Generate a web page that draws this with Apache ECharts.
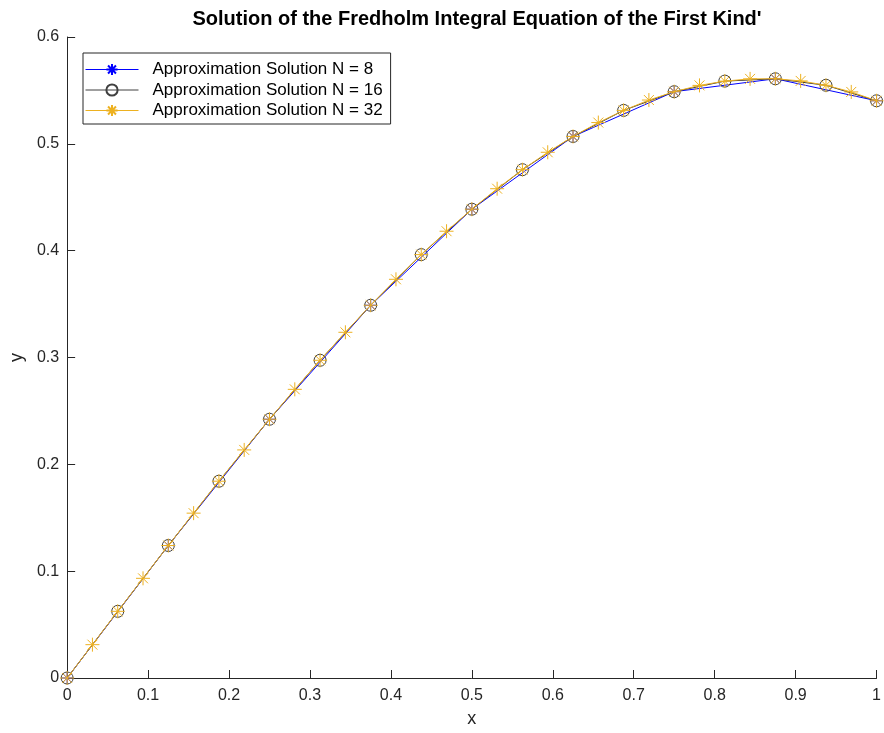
<!DOCTYPE html>
<html>
<head>
<meta charset="utf-8">
<script src="https://cdn.jsdelivr.net/npm/echarts@6/dist/echarts.min.js"></script>
<style>
  html, body { margin: 0; padding: 0; background: #ffffff; }
  #chart { width: 884px; height: 733px; }
</style>
</head>
<body>
<div id="chart"></div>
<script>
// Sample points of each approximate solution (x, y)
const xN8 = [0, 0.125, 0.25, 0.375, 0.5, 0.625, 0.75, 0.875, 1];
const yN8 = [0, 0.1240, 0.2422, 0.3489, 0.4388, 0.5069, 0.5488, 0.5609, 0.5403];

const xN16 = [0, 0.0625, 0.125, 0.1875, 0.25, 0.3125, 0.375, 0.4375, 0.5,
              0.5625, 0.625, 0.6875, 0.75, 0.8125, 0.875, 0.9375, 1];
const yN16 = [0, 0.0624, 0.1240, 0.1842, 0.2422, 0.2974, 0.3489, 0.3963, 0.4388,
              0.4758, 0.5069, 0.5313, 0.5488, 0.5587, 0.5609, 0.5548, 0.5403];

const xN32 = [0, 0.03125, 0.0625, 0.09375, 0.125, 0.15625, 0.1875, 0.21875, 0.25,
              0.28125, 0.3125, 0.34375, 0.375, 0.40625, 0.4375, 0.46875, 0.5,
              0.53125, 0.5625, 0.59375, 0.625, 0.65625, 0.6875, 0.71875, 0.75,
              0.78125, 0.8125, 0.84375, 0.875, 0.90625, 0.9375, 0.96875, 1];
const yN32 = [0, 0.0312, 0.0624, 0.0933, 0.1240, 0.1543, 0.1842, 0.2135, 0.2422,
              0.2702, 0.2974, 0.3236, 0.3489, 0.3732, 0.3963, 0.4182, 0.4388,
              0.4580, 0.4758, 0.4921, 0.5069, 0.5199, 0.5313, 0.5410, 0.5488,
              0.5547, 0.5587, 0.5608, 0.5609, 0.5589, 0.5548, 0.5486, 0.5403];

const seriesNames = [
  'Approximation Solution N = 8',
  'Approximation Solution N = 16',
  'Approximation Solution N = 32'
];
const xTicks = [0, 0.1, 0.2, 0.3, 0.4, 0.5, 0.6, 0.7, 0.8, 0.9, 1];
const yTicks = [0, 0.1, 0.2, 0.3, 0.4, 0.5, 0.6];

const pairs = (xs, ys) => xs.map((x, i) => [x, ys[i]]);
const ASTERISK = 'path://M12,0L12,24M0,12L24,12M3.5,3.5L20.5,20.5M3.5,20.5L20.5,3.5';
const FONT = '"Liberation Sans", Arial, Helvetica, sans-serif';
const AXIS_COLOR = '#262626';
const COLORS = ['#0000ff', '#404040', '#EDB120'];

const chart = echarts.init(document.getElementById('chart'), null, { renderer: 'canvas' });

chart.setOption({
  backgroundColor: '#ffffff',
  animation: false,
  textStyle: { fontFamily: FONT },
  title: {
    text: "Solution of the Fredholm Integral Equation of the First Kind'",
    left: 472,
    textAlign: 'center',
    top: 4,
    textStyle: { fontFamily: FONT, fontSize: 20, fontWeight: 'bold', color: '#000000' }
  },
  grid: { left: 67, right: 6, top: 37, bottom: 55, containLabel: false },
  legend: {
    orient: 'vertical',
    left: 83,
    top: 53,
    padding: [8, 8, 5, 2],
    itemWidth: 53,
    itemHeight: 14,
    itemGap: 3.5,
    backgroundColor: '#ffffff',
    borderColor: '#262626',
    borderWidth: 1,
    borderRadius: 0,
    textStyle: { fontFamily: FONT, fontSize: 17, color: '#000000', padding: [0, 0, 0, 9] },
    data: seriesNames.map((name, i) => ({
      name,
      lineStyle: { width: 1, color: COLORS[i] }
    }))
  },
  xAxis: {
    type: 'value',
    min: 0,
    max: 1,
    interval: 0.1,
    name: 'x',
    nameLocation: 'middle',
    nameGap: 32,
    nameTextStyle: { fontFamily: FONT, fontSize: 18, color: AXIS_COLOR },
    axisLine: { show: true, lineStyle: { color: AXIS_COLOR, width: 1 } },
    axisTick: { show: true, inside: true, length: 8, lineStyle: { color: AXIS_COLOR } },
    axisLabel: {
      fontFamily: FONT, fontSize: 16, color: AXIS_COLOR, margin: 10,
      formatter: v => (xTicks.some(t => Math.abs(t - v) < 1e-9) ? String(+v.toFixed(1)) : '')
    },
    splitLine: { show: false }
  },
  yAxis: {
    type: 'value',
    min: 0,
    max: 0.6,
    interval: 0.1,
    name: 'y',
    nameLocation: 'middle',
    nameGap: 41,
    nameRotate: 90,
    nameTextStyle: { fontFamily: FONT, fontSize: 18, color: AXIS_COLOR },
    axisLine: { show: true, lineStyle: { color: AXIS_COLOR, width: 1 } },
    axisTick: { show: true, inside: true, length: 8, lineStyle: { color: AXIS_COLOR } },
    axisLabel: {
      fontFamily: FONT, fontSize: 16, color: AXIS_COLOR, margin: 8,
      formatter: v => (yTicks.some(t => Math.abs(t - v) < 1e-9) ? String(+v.toFixed(1)) : '')
    },
    splitLine: { show: false }
  },
  series: [
    {
      name: seriesNames[0],
      type: 'line',
      data: pairs(xN8, yN8),
      symbol: ASTERISK,
      symbolSize: 12,
      showSymbol: true,
      lineStyle: { color: COLORS[0], width: 1 },
      itemStyle: { color: COLORS[0], borderColor: COLORS[0], borderWidth: 1 },
      emphasis: { disabled: true },
      z: 2
    },
    {
      name: seriesNames[1],
      type: 'line',
      data: pairs(xN16, yN16),
      symbol: 'circle',
      symbolSize: 12,
      showSymbol: true,
      lineStyle: { color: '#333333', width: 1 },
      itemStyle: { color: 'rgba(255,255,255,0)', borderColor: COLORS[1], borderWidth: 1 },
      emphasis: { disabled: true },
      z: 3
    },
    {
      name: seriesNames[2],
      type: 'line',
      data: pairs(xN32, yN32),
      symbol: ASTERISK,
      symbolSize: 14,
      showSymbol: true,
      lineStyle: { color: COLORS[2], width: 1 },
      itemStyle: { color: COLORS[2], borderColor: COLORS[2], borderWidth: 1 },
      emphasis: { disabled: true },
      z: 4
    }
  ]
});
</script>
</body>
</html>
